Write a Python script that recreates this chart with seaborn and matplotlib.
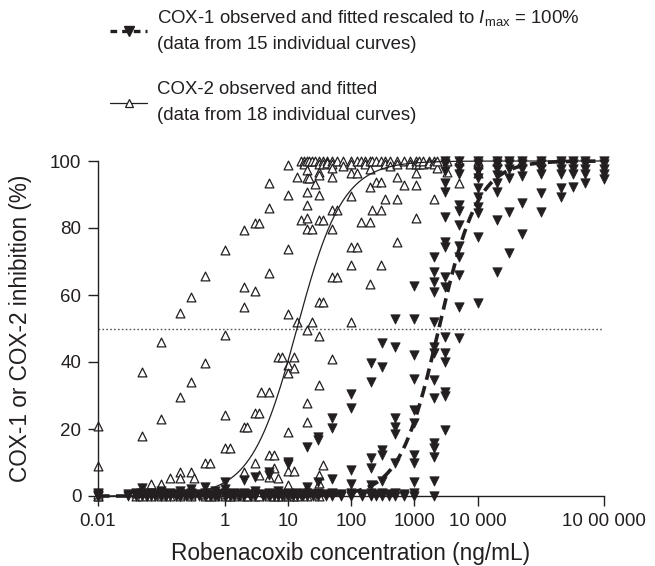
import numpy as np
import pandas as pd
import matplotlib
matplotlib.use('Agg')
import matplotlib.pyplot as plt
from matplotlib.lines import Line2D
from matplotlib.ticker import NullLocator
import seaborn as sns

# COX-2 observed inhibition (%), grouped by concentration (ng/mL)
cox2_levels = [0.01, 0.04, 0.05, 0.07, 0.1, 0.14, 0.2, 0.3, 0.33, 0.5,
               0.6, 0.7, 1, 1.2, 1.4, 2, 2.3, 3, 3.5, 3.8,
               5, 6, 7, 8, 10, 12.5, 14, 16, 18, 20,
               22, 24, 27, 31, 36, 42, 50, 60, 75, 100,
               125, 142, 165, 200, 218, 245, 295, 350, 420, 525,
               690, 850, 1050, 1200, 1400, 1700, 2050, 2300, 3300, 5100,
               10000, 20000, 50000, 100000]
cox2_values = [
    [21, 9, 0, 0, 0.5],
    [0, 1],
    [37, 18, 2.5, 0],
    [3.6, 0],
    [46, 23, 3.6, 0, 0.5],
    [5.3, 0],
    [54.5, 29.6, 7.1, 5.3, 0, 0.5],
    [59.5, 34, 7.1, 0, 0.5],
    [5.5],
    [65.7, 39.8, 9.8, 0, 0.5],
    [9.8, 0],
    [0, 0.5],
    [73.4, 48, 24.2, 14.2, 0, 0.5],
    [14.2, 0],
    [0, 0.5],
    [79.4, 62.5, 56.5, 20.7, 7.3, 0, 0.5],
    [20.7, 0],
    [81.6, 61.2, 24.9, 9.8, 0, 0.5],
    [81.6, 24.9, 6.3, 0],
    [31.1],
    [93.5, 86, 66.7, 31.1, 12.2, 5.8, 0, 0.5],
    [12.2, 8.5, 0],
    [41.4, 5.5, 0],
    [41.4, 0],
    [98.8, 90, 73.6, 54.3, 39, 36.6, 19.2, 7.5, 3.3, 0, 0.5],
    [41.4, 38.1, 7.5, 0],
    [95.1, 52, 0],
    [82.4, 100],
    [100, 99],
    [100, 97.3, 94.8, 90.8, 86.9, 82.9, 79.6, 49.6, 27.7, 22.2, 2.3, 0],
    [100, 95],
    [100, 79.7, 52],
    [100, 93],
    [100, 99, 96.8, 95.8, 90, 82.4, 58, 47.8, 33.1, 6.3, 3.8, 0],
    [100, 99, 82.4, 58, 9.3],
    [100, 99.5],
    [100, 99, 98, 95.3, 85.4, 79.6, 65.5, 41],
    [100, 85.4, 65.5],
    [100, 98.5],
    [100, 99, 96.5, 89.5, 74.4, 69, 52],
    [100, 96.5, 74.4],
    [81.9, 100],
    [100, 99],
    [100, 97.5, 92.3, 81.9, 63.3],
    [85.4, 100],
    [93.8, 100],
    [93.8, 85.4, 69, 100],
    [88.6, 100, 99],
    [100, 98.5],
    [95.3, 88.6, 75.9, 100, 99],
    [92.8, 100],
    [100, 99],
    [96.4, 92.8, 83.1, 100, 99],
    [99, 100],
    [99, 100],
    [100, 99.5],
    [88.6, 100, 99],
    [97.8, 100],
    [96.8, 100],
    [93.3, 100],
    [96.4, 100, 99],
    [100],
    [100],
    [100],
]

# COX-1 observed inhibition (%), rescaled to Imax = 100%
cox1_levels = [0.01, 0.03, 0.04, 0.05, 0.06, 0.07, 0.08, 0.1, 0.12, 0.14,
               0.17, 0.2, 0.25, 0.3, 0.4, 0.5, 0.6, 0.7, 0.8, 1,
               1.2, 1.4, 1.7, 2, 2.5, 3, 4, 5, 6, 7,
               8, 10, 12, 14, 17, 20, 25, 30, 40, 50,
               70, 100, 150, 205, 250, 310, 400, 500, 700, 1000,
               2050, 3100, 5150, 10000, 20000, 31000, 51000, 100000, 210000, 320000,
               500000, 1000000]
cox1_values = [
    [0, 0.5, 1, 0],
    [0, 0.5],
    [0, 1, 0.5],
    [2.3, 0, 1, 0.5],
    [0, 0.5],
    [0, 1, 0.5],
    [0, 0.5],
    [0, 1.5, 0.5, 0],
    [0, 0.5],
    [0, 1, 0.5],
    [0, 0.5],
    [0, 1.5, 0.5, 0],
    [0, 0.5],
    [0, 2, 0.5, 1],
    [0, 0.5],
    [2.8, 0, 1, 0.5],
    [0, 0.5],
    [0, 1.5, 0.5],
    [0, 0.5],
    [4.3, 0, 1, 0.5, 2],
    [0, 0.5],
    [0, 1, 0.5],
    [0, 0.5],
    [4.8, 0, 1, 0.5],
    [0, 0.5],
    [5.8, 0, 1.5, 0.5],
    [0, 0.5],
    [7.3, 6.3, 0, 1, 0.5],
    [0, 0.5],
    [0, 1.5, 0.5],
    [0, 0.5],
    [10.2, 9.6, 0, 1, 0.5],
    [0, 0.5],
    [0, 1, 0.5],
    [0, 0.5],
    [14.5, 2.8, 0, 1, 0.5],
    [0, 0.5],
    [17.7, 16.7, 4.1, 0, 1, 0.5],
    [0, 0.5],
    [23.2, 20.2, 5.2, 0, 1, 0.5],
    [0, 0.5],
    [30.4, 26.4, 7.7, 3.7, 0, 1, 0.5],
    [0, 0.5],
    [39.8, 33.9, 11.4, 8.4, 3.3, 0.3, 0, 1],
    [0, 0.5],
    [45.8, 38.6, 13.7, 12.2, 4.5, 0, 1],
    [0, 0.5],
    [52.7, 44.6, 23.2, 20.7, 18.4, 9.8, 0.8, 0],
    [0, 0.5],
    [62.8, 52.7, 42.1, 34.8, 25.7, 21.7, 12.2, 9.8, 4.3, 0, 1],
    [71.4, 67, 64, 61, 52, 44.6, 42.6, 34.6, 29.4, 15.9, 14.2, 11.5, 4.4, 0],
    [100, 99, 97, 93.3, 90.8, 83.4, 75.9, 74.4, 65.5, 62.5, 47.6, 42.6, 40.1, 31.1, 29.9, 19.7],
    [100, 98, 96, 87, 85, 81, 74.5, 71.4, 66, 56.5, 47.3],
    [100, 99, 97, 95, 91.8, 89.4, 86.4, 84.4, 77.4, 57.5],
    [100, 99, 97.5, 95.8, 93.3, 90.8, 82.4, 67],
    [100, 99, 97.5, 94.8, 84.9, 72.5],
    [100, 99, 97.5, 95.4, 87.4, 78.1],
    [100, 99, 97.5, 96, 90.4, 84.9],
    [100, 99, 97.5, 96, 91.8, 89.4],
    [100, 99, 97.5, 96, 92.3],
    [100, 99, 97.5, 96, 93.5],
    [100, 99, 97.5, 96, 94.5],
]

# fitted Hill curves: IC50 (ng/mL) and slope
cox2_ic50, cox2_slope = 14.0, 1.2
cox1_ic50, cox1_slope = 2450.0, 1.4

xticks = [0.01, 1, 10, 100, 1000, 10000, 1000000]
xtick_labels = ['0.01', '1', '10', '100', '1000', '10 000', '10 00 000']
yticks = [0, 20, 40, 60, 80, 100]


def to_frame(levels, values):
    assert len(levels) == len(values)
    rows = [(c, v) for c, vals in zip(levels, values) for v in vals]
    return pd.DataFrame(rows, columns=['conc', 'inhib'])


cox2 = to_frame(cox2_levels, cox2_values)
cox1 = to_frame(cox1_levels, cox1_values)

grid = np.logspace(-2, 6, 500)
fit = pd.DataFrame({
    'conc': grid,
    'cox2': 100 / (1 + (cox2_ic50 / grid) ** cox2_slope),
    'cox1': 100 / (1 + (cox1_ic50 / grid) ** cox1_slope),
})

sns.set_theme(style='ticks')
plt.rcParams['font.family'] = ['Liberation Sans', 'DejaVu Sans']
plt.rcParams['mathtext.fontset'] = 'custom'
plt.rcParams['mathtext.rm'] = 'Liberation Sans'
plt.rcParams['mathtext.it'] = 'Liberation Sans:italic'

ink = '#231f20'
fig = plt.figure(figsize=(6.55, 5.66), dpi=100)
ax = fig.add_axes([98 / 655, 70 / 566, 506 / 655, 335 / 566])

ax.axhline(50, color='0.35', lw=1.0, ls=(0, (1.2, 1.6)), zorder=1)
sns.scatterplot(data=cox2, x='conc', y='inhib', marker='^', s=40, color='white',
                edgecolor=ink, linewidth=0.9, clip_on=False, zorder=2, ax=ax)
sns.scatterplot(data=cox1, x='conc', y='inhib', marker='v', s=46, color=ink,
                edgecolor=ink, linewidth=0.5, clip_on=False, zorder=3, ax=ax)
ax.plot(fit['conc'], fit['cox2'], color=ink, lw=0.9, zorder=4, clip_on=False)
ax.plot(fit['conc'], fit['cox1'], color=ink, lw=2.6, ls=(0, (3.2, 1.8)), zorder=4, clip_on=False)

ax.set_xscale('log')
ax.set_xlim(0.01, 1e6)
ax.set_ylim(0, 100)
ax.set_xticks(xticks)
ax.set_xticklabels(xtick_labels)
ax.xaxis.set_minor_locator(NullLocator())
ax.set_yticks(yticks)
ax.tick_params(direction='out', length=7, width=1, labelsize=13.5, pad=5,
               colors=ink)
for sp in ax.spines.values():
    sp.set_linewidth(1)
    sp.set_color(ink)
sns.despine(ax=ax)

ax.set_xlabel('Robenacoxib concentration (ng/mL)', fontsize=16.3, color=ink)
ax.set_ylabel('COX-1 or COX-2 inhibition (%)', fontsize=16.3, color=ink)
ax.xaxis.set_label_coords(0.5, -0.137)
ax.yaxis.set_label_coords(-0.13, 0.5)

handles = [
    Line2D([], [], color=ink, lw=2.4, ls=(0, (2.0, 1.5)), marker='v', ms=6.5,
           mfc=ink, mec=ink),
    Line2D([], [], color=ink, lw=0.9, marker='^', ms=6, mfc='white', mec=ink, mew=0.9),
]
labels = [
    'COX-1 observed and fitted rescaled to $I_{\\mathrm{max}}$ = 100%\n(data from 15 individual curves)',
    'COX-2 observed and fitted\n(data from 18 individual curves)',
]
leg = fig.legend(handles, labels, loc='upper left', bbox_to_anchor=(110 / 655, 1 - 8 / 566),
                 frameon=False, fontsize=13.4, handlelength=2.0, handletextpad=0.55,
                 labelspacing=1.5, borderpad=0, borderaxespad=0, numpoints=1)
for t in leg.get_texts():
    t.set_linespacing(1.65)
    t.set_color(ink)

fig.savefig('out.png', dpi=100, facecolor='white')
